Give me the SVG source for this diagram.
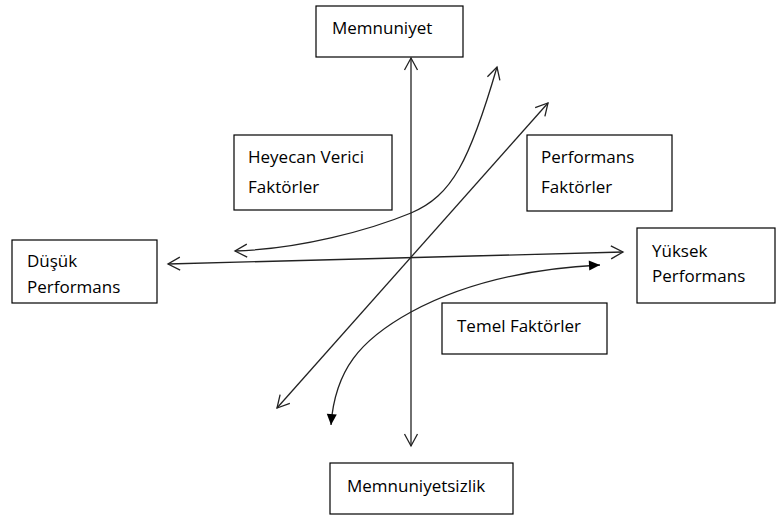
<svg xmlns="http://www.w3.org/2000/svg" width="776" height="516" viewBox="0 0 776 516">
<style>
.box{fill:#fff;stroke:#000;stroke-width:1.2}
.t{font-family:"Open Sans","Noto Sans",sans-serif;font-size:17px;fill:#000}
.ln{fill:none;stroke:#222;stroke-width:1.3}
</style>
<defs>
<marker id="open" markerUnits="userSpaceOnUse" markerWidth="16" markerHeight="16" viewBox="0 0 16 16" refX="14" refY="8" orient="auto-start-reverse">
<path d="M2,1.5 L14,8 L2,14.5" fill="none" stroke="#222" stroke-width="1.3"/>
</marker>
<marker id="solid" markerUnits="userSpaceOnUse" markerWidth="14" markerHeight="14" viewBox="0 0 14 14" refX="12" refY="7" orient="auto-start-reverse">
<path d="M1,2 L12,7 L1,12 Z" fill="#000"/>
</marker>
</defs>
<rect width="776" height="516" fill="#fff"/>
<g id="connectors">
<line class="ln" x1="411" y1="446" x2="411" y2="58" marker-start="url(#open)" marker-end="url(#open)"/>
<line class="ln" x1="168" y1="264" x2="623" y2="252" marker-start="url(#open)" marker-end="url(#open)"/>
<line class="ln" x1="277" y1="408" x2="548" y2="103" marker-start="url(#open)" marker-end="url(#open)"/>
<path class="ln" d="M235,251 C300,249 370,230 411,213 C452,196 470,160 497,67" marker-start="url(#open)" marker-end="url(#open)"/>
<path class="ln" d="M331,425 C335,370 360,340 411,312 C470,280 540,268 600,265" marker-start="url(#solid)" marker-end="url(#solid)"/>
</g>
<g id="memnuniyet">
<rect class="box" x="316" y="6" width="147" height="51"/>
<text class="t" x="332" y="34">Memnuniyet</text>
</g>
<g id="memnuniyetsizlik">
<rect class="box" x="330" y="463" width="183" height="51"/>
<text class="t" x="347" y="492">Memnuniyetsizlik</text>
</g>
<g id="dusuk">
<rect class="box" x="12" y="240" width="145" height="63"/>
<text class="t" x="27" y="267">Düşük</text>
<text class="t" x="27" y="293">Performans</text>
</g>
<g id="yuksek">
<rect class="box" x="637" y="228" width="138" height="75"/>
<text class="t" x="652" y="257">Yüksek</text>
<text class="t" x="652" y="282">Performans</text>
</g>
<g id="heyecan">
<rect class="box" x="234" y="135" width="158" height="75"/>
<text class="t" x="248" y="163">Heyecan Verici</text>
<text class="t" x="248" y="193">Faktörler</text>
</g>
<g id="performans">
<rect class="box" x="527" y="135" width="145" height="76"/>
<text class="t" x="541" y="163">Performans</text>
<text class="t" x="541" y="193">Faktörler</text>
</g>
<g id="temel">
<rect class="box" x="442" y="303" width="165" height="51"/>
<text class="t" x="457" y="332">Temel Faktörler</text>
</g>
</svg>
